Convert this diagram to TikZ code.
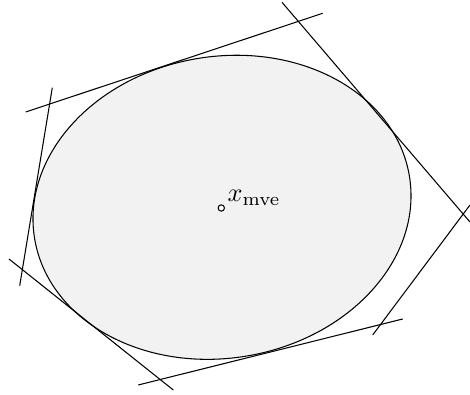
\documentclass[tikz,border=0pt]{standalone}
\begin{document}
\begin{tikzpicture}[x=0.38pt,y=-0.38pt,
  edge/.style={draw=black,line width=0.4pt},
  body/.style={draw=black,fill=black!5,line width=0.4pt}]
\useasboundingbox (0,0) rectangle (470,395);
\draw[body,rotate around={9.6:(222,207.3)}] (222,207.3) ellipse [x radius=190, y radius=150.8];
% tangent lines
\coordinate (t1) at (25.7,112);  \coordinate (t2) at (322.7,13.3);
\coordinate (r1) at (282,2.3);   \coordinate (r2) at (470,222);
\coordinate (s1) at (470,205);   \coordinate (s2) at (372.7,335);
\coordinate (b1) at (138.3,385); \coordinate (b2) at (402.7,319);
\coordinate (l1) at (9,259);     \coordinate (l2) at (173.3,390);
\coordinate (w1) at (52.3,87.7); \coordinate (w2) at (19.7,285.7);
\draw[edge] (t1) -- (t2);
\draw[edge] (r1) -- (r2);
\draw[edge] (s1) -- (s2);
\draw[edge] (b1) -- (b2);
\draw[edge] (l1) -- (l2);
\draw[edge] (w1) -- (w2);
\node[circle,draw=black,fill=white,inner sep=0pt,minimum size=2.4pt,line width=0.4pt] (c) at (221.3,208) {};
\node[anchor=base west,inner sep=0pt] (lab) at (227,201.5) {$x_{\mathrm{mve}}$};
\end{tikzpicture}
\end{document}
